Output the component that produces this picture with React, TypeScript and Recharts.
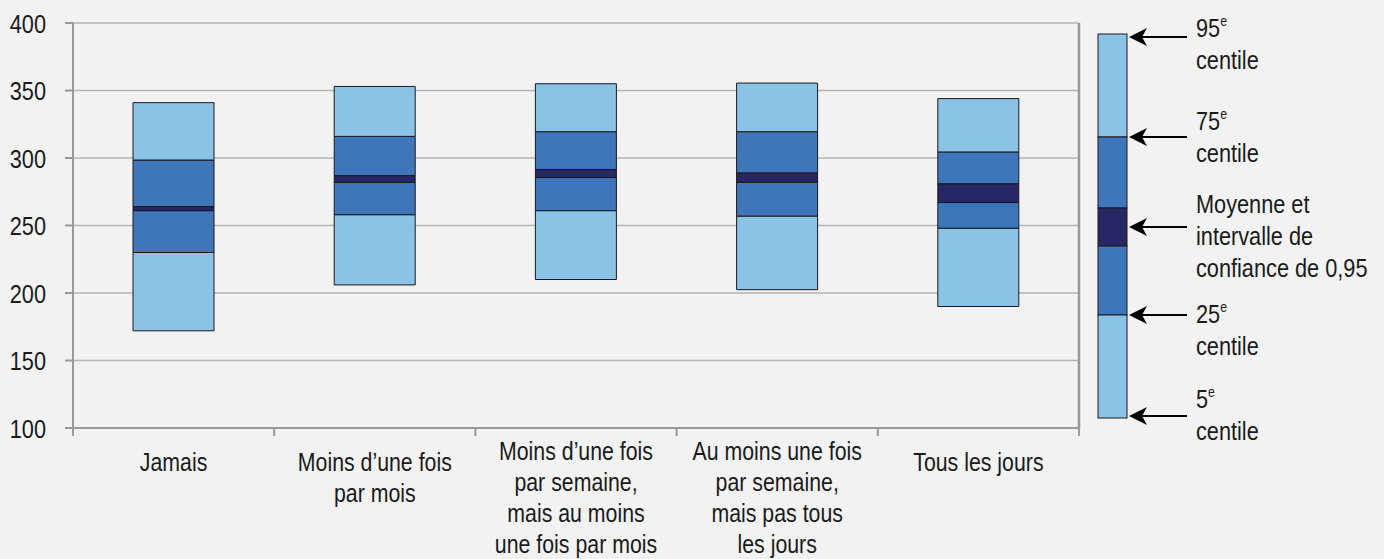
import React from "react";
import { BarChart, Bar, XAxis, YAxis, CartesianGrid } from "recharts";

// Catégories (les sauts de ligne suivent l'original)
const categories = [
  "Jamais",
  "Moins d’une fois\npar mois",
  "Moins d’une fois\npar semaine,\nmais au moins\nune fois par mois",
  "Au moins une fois\npar semaine,\nmais pas tous\nles jours",
  "Tous les jours",
];

// Valeurs
const p5 = [172, 206, 210, 202.5, 190];
const p25 = [230, 258, 261, 257, 248];
const ciLow = [261, 282, 285.5, 282, 267];
const ciHigh = [264, 287, 291.5, 289, 281];
const p75 = [298.5, 316, 319.5, 319.5, 304.5];
const p95 = [341, 353, 355, 355.5, 344];

const yTicks = [100, 150, 200, 250, 300, 350, 400];

const LIGHT = "#8bc3e6";
const MID = "#3d76bb";
const DARK = "#272765";
const BG = "#f2f2f2";
const TEXT = "#1a1a1a";
// pas de police étroite installée : Liberation Sans compressée horizontalement
const FONT = "'Liberation Sans', Arial, sans-serif";
const NARROW = 0.82;

// segments empilés : base invisible jusqu'au 5e centile, puis les écarts
const chartData = categories.map((name, i) => ({
  name,
  base: p5[i],
  s1: p25[i] - p5[i],
  s2: ciLow[i] - p25[i],
  s3: ciHigh[i] - ciLow[i],
  s4: p75[i] - ciHigh[i],
  s5: p95[i] - p75[i],
}));

const segments = [
  { key: "s1", fill: LIGHT },
  { key: "s2", fill: MID },
  { key: "s3", fill: DARK },
  { key: "s4", fill: MID },
  { key: "s5", fill: LIGHT },
];

function NarrowText({ x, y, size, anchor = "start", dy, children }: any) {
  return (
    <text
      transform={`translate(${x},${y}) scale(${NARROW},1)`}
      x={0}
      y={0}
      dy={dy}
      textAnchor={anchor}
      fontSize={size}
      fontFamily={FONT}
      fill={TEXT}
    >
      {children}
    </text>
  );
}

function CategoryTick(props: any) {
  const { x, y, payload, index, visibleTicksCount } = props;
  const half = payload.offset ?? 0;
  const lines = String(payload.value).split("\n");
  const isLast = index === visibleTicksCount - 1;
  const first = lines.length > 2 ? 32 : 43;
  return (
    <g>
      <line x1={x - half} x2={x - half} y1={y} y2={y + 8} stroke="#999" strokeWidth={2} />
      {isLast && (
        <line x1={x + half} x2={x + half} y1={y} y2={y + 8} stroke="#999" strokeWidth={2} />
      )}
      {lines.map((line, i) => (
        <NarrowText key={i} x={x} y={y + first + i * 31} size={26} anchor="middle">
          {line}
        </NarrowText>
      ))}
    </g>
  );
}

function ValueTick(props: any) {
  const { x, y, payload } = props;
  return (
    <NarrowText x={x} y={y} size={26.5} anchor="end" dy="0.36em">
      {payload.value}
    </NarrowText>
  );
}

// Légende à droite
const legendBands = [
  { from: 34, to: 137, fill: LIGHT },
  { from: 137, to: 208, fill: MID },
  { from: 208, to: 246, fill: DARK },
  { from: 246, to: 315, fill: MID },
  { from: 315, to: 418, fill: LIGHT },
];
const legendArrows = [37, 137, 227, 315, 416];
const legendLines = [
  { num: "95", sup: "e", y: 36.5 },
  { text: "centile", y: 68.5 },
  { num: "75", sup: "e", y: 130 },
  { text: "centile", y: 162 },
  { text: "Moyenne et", y: 213 },
  { text: "intervalle de", y: 245 },
  { text: "confiance de 0,95", y: 277 },
  { num: "25", sup: "e", y: 323 },
  { text: "centile", y: 355 },
  { num: "5", sup: "e", y: 408 },
  { text: "centile", y: 440 },
];

function Legend() {
  return (
    <svg width={1384} height={559} style={{ position: "absolute", left: 0, top: 0, pointerEvents: "none" }}>
      {legendBands.map((b, i) => (
        <rect key={i} x={1098} y={b.from} width={29} height={b.to - b.from} fill={b.fill} stroke={TEXT} strokeWidth={1} />
      ))}
      {legendArrows.map((y, i) => (
        <g key={i}>
          <line x1={1140} x2={1187} y1={y} y2={y} stroke="#000" strokeWidth={2} />
          <path d={`M1129,${y} L1147,${y - 9} L1142,${y} L1147,${y + 9} Z`} fill="#000" />
        </g>
      ))}
      {legendLines.map((l, i) => (
        <NarrowText key={i} x={1196} y={l.y} size={26.5}>
          {l.text ?? l.num}
          {l.sup && (
            <tspan fontSize={15} dy={-11}>
              {l.sup}
            </tspan>
          )}
        </NarrowText>
      ))}
    </svg>
  );
}

export default function App() {
  return (
    <div style={{ position: "absolute", left: 0, top: 0, width: 1384, height: 559, background: BG, overflow: "hidden" }}>
      <BarChart
        width={1090}
        height={559}
        data={chartData}
        margin={{ top: 23, right: 10, bottom: 0, left: 0 }}
        barSize={81}
      >
        <CartesianGrid vertical={false} stroke="#b5b5b5" strokeWidth={1.3} />
        <XAxis
          dataKey="name"
          height={131}
          interval={0}
          tickLine={false}
          tickSize={0}
          tickMargin={0}
          axisLine={{ stroke: "#999", strokeWidth: 2 }}
          tick={<CategoryTick />}
        />
        <YAxis
          domain={[100, 400]}
          ticks={yTicks}
          allowDataOverflow
          width={73}
          tickSize={8}
          tickMargin={19}
          tickLine={{ stroke: "#999", strokeWidth: 2 }}
          axisLine={{ stroke: "#999", strokeWidth: 2 }}
          tick={<ValueTick />}
        />
        <YAxis
          yAxisId="right"
          orientation="right"
          domain={[100, 400]}
          width={1}
          tick={false}
          tickLine={false}
          axisLine={{ stroke: "#999", strokeWidth: 2.5 }}
        />
        <Bar dataKey="base" stackId="a" fill="transparent" isAnimationActive={false} />
        {segments.map((s) => (
          <Bar
            key={s.key}
            dataKey={s.key}
            stackId="a"
            fill={s.fill}
            stroke={TEXT}
            strokeWidth={1}
            isAnimationActive={false}
          />
        ))}
      </BarChart>
      <Legend />
    </div>
  );
}
